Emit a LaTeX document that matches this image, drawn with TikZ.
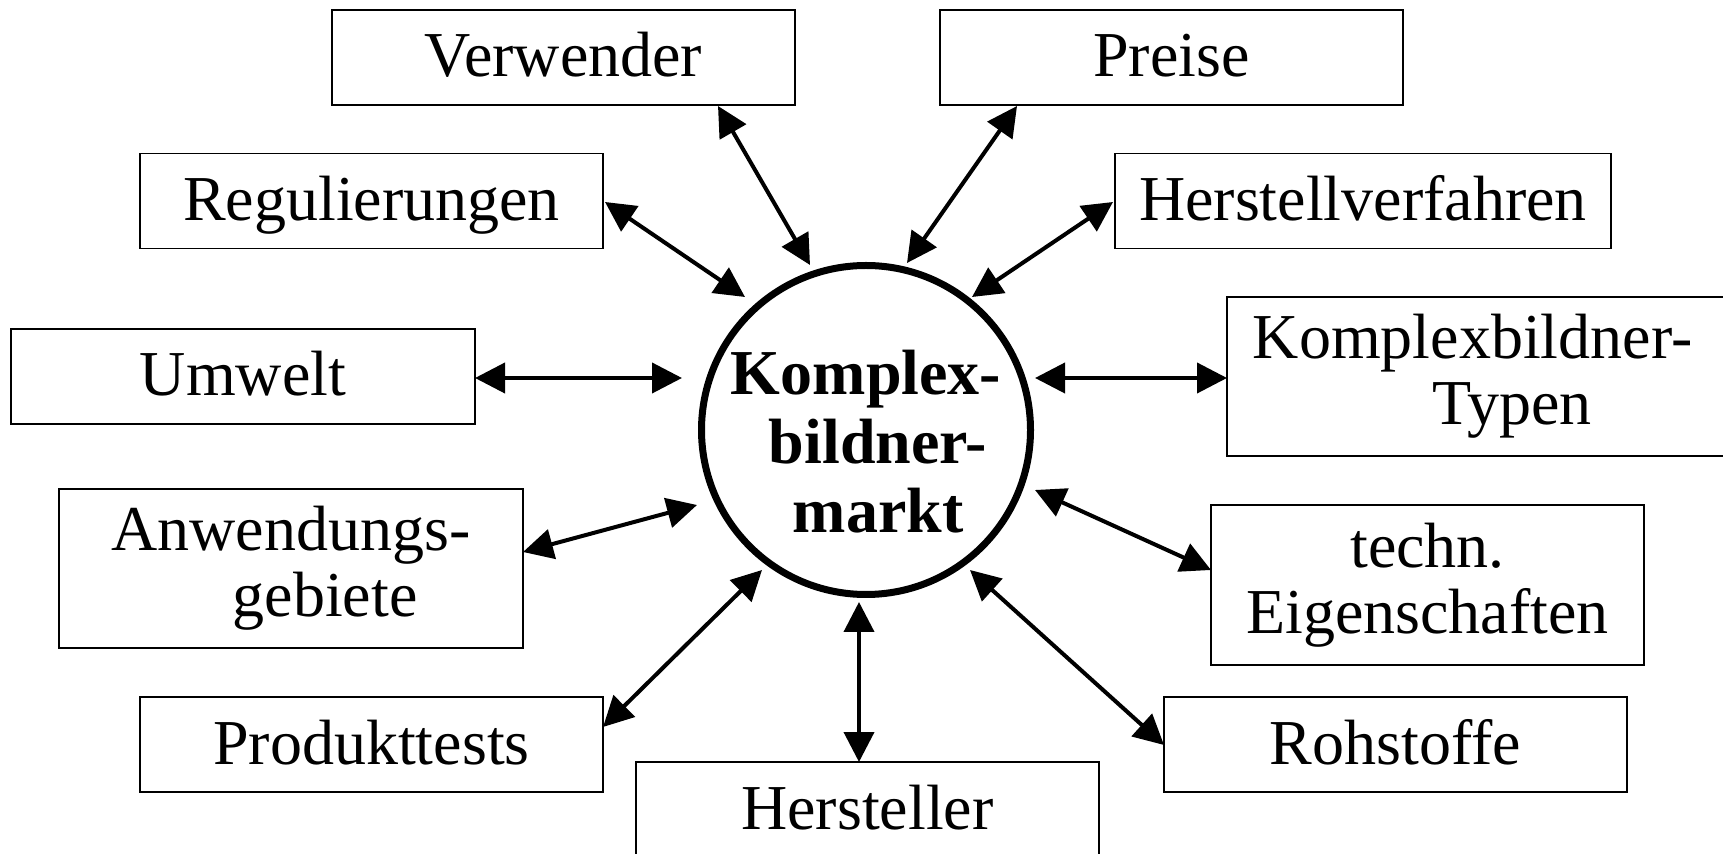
\documentclass[tikz,border=0pt]{standalone}
\usepackage{fontspec}
\setmainfont{Liberation Serif}
\usetikzlibrary{arrows.meta,calc}
\begin{document}
\begin{tikzpicture}[x=0.5pt,y=-0.5pt,
  box/.style={draw, line width=0.75pt, inner sep=0pt, outer sep=0pt,
    font=\fontsize{32}{33}\selectfont, align=center},
  one/.style={box, text height=22pt, text depth=2.5pt, minimum height=47.5pt},
  two/.style={box, minimum height=79.5pt},
  arr/.style={line width=2pt,
    {Triangle[length=15pt,width=15pt]}-{Triangle[length=15pt,width=15pt]}},
  hub/.style={circle, draw, line width=3.5pt, minimum size=164.5pt, inner sep=0pt},
  hubtext/.style={inner sep=0pt, font=\bfseries\fontsize{32}{34.5}\selectfont, align=center},
]
\useasboundingbox (0,0) rectangle (1723,854);
\clip (0,0) rectangle (1723,854);

\node[hub] (c) at (866,430) {};
\node[hubtext] (ct) at (866,442) {Komplex-\\\hspace*{12pt}bildner-\\\hspace*{12pt}markt};

\node[one, minimum width=231.5pt] (verw) at (563.5,57.5) {Verwender};
\node[one, minimum width=231.5pt] (preise) at (1171.5,57.5) {Preise};
\node[one, minimum width=231.5pt] (reg) at (371.5,201) {Regulierungen};
\node[one, minimum width=248pt] (hv) at (1363,201) {Herstellverfahren};
\node[one, minimum width=232pt] (umw) at (243,376.5) {Umwelt};
\node[two, minimum width=254pt] (kt) at (1481,376.5) {Komplexbildner-\hspace*{8.4pt}\\\hspace*{31pt}Typen};
\node[two, minimum width=232pt] (anw) at (291,568.5) {Anwendungs-\\\hspace*{34pt}gebiete};
\node[two, minimum width=216.5pt, minimum height=80pt] (techn) at (1427.5,585) {techn.\\Eigenschaften};
\node[one, minimum width=231.5pt] (prod) at (371.5,744.5) {Produkttests};
\node[one, minimum width=231.5pt] (roh) at (1395.5,744.5) {Rohstoffe};
\node[one, minimum width=231.5pt] (herst) at (867.5,809.5) {Hersteller};

\draw[arr] ($(umw.east)+(0,1.5)$) -- ($(c.center)+(-184,-52)$);
\draw[arr] ($(c.center)+(169,-52)$) -- ($(kt.west)+(0,1.5)$);
\draw[arr] ($(anw.east)+(0,-16.5)$) -- ($(c.center)+(-169,75)$);
\draw[arr] ($(c.center)+(169,60)$) -- ($(techn.west)+(0,-15)$);
\draw[arr] ($(prod.east)+(0,-17.5)$) -- ($(c.center)+(-104,140)$);
\draw[arr] ($(c.center)+(-7,172)$) -- ($(herst.north)+(-8.5,0)$);
\draw[arr] ($(c.center)+(104,140)$) -- ($(roh.west)+(0,0.5)$);
\draw[arr] ($(reg.east)+(2,1)$) -- ($(c.center)+(-121,-133)$);
\draw[arr] ($(verw.south)+(154.5,1)$) -- ($(c.center)+(-56,-165)$);
\draw[arr] ($(preise.south)+(-154.5,1)$) -- ($(c.center)+(41,-167)$);
\draw[arr] ($(hv.west)+(-2,1)$) -- ($(c.center)+(106,-133)$);
\end{tikzpicture}
\end{document}
